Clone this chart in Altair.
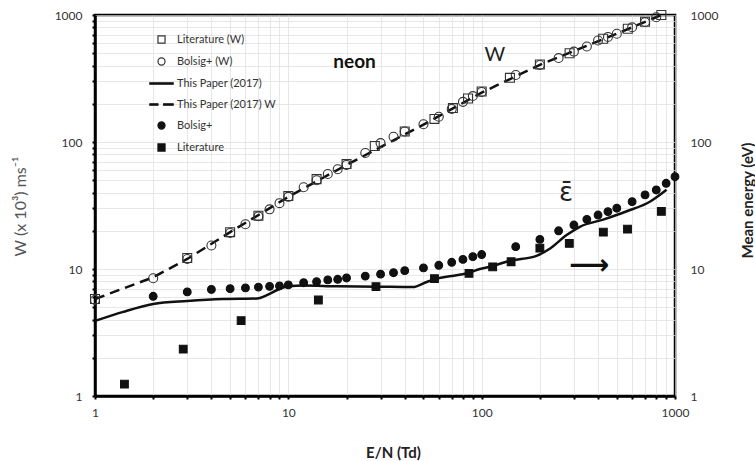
import altair as alt
import pandas as pd

# ---------------- W (drift velocity, left axis) ----------------
w_bolsig_x = [1, 2, 3, 4, 5, 6, 7, 8, 9, 10, 12, 14, 16, 18, 20, 25, 30, 35, 40, 50, 60, 70, 80,
              90, 100, 150, 200, 250, 300, 350, 400, 450, 500, 600, 700, 800]
w_bolsig_y = [5.7, 8.45, 12.0, 15.3, 19.2, 22.5, 26, 29.5, 33, 37, 44, 50, 56, 61, 66, 82, 98, 110,
              121, 138, 158, 182, 207, 230, 248, 337, 404, 458, 515, 565, 630, 672, 712, 800, 880, 960]

w_lit_x = [1, 3, 5, 7, 10, 14, 20, 28, 40, 57, 71, 85, 100, 140, 200, 285, 425, 570, 700, 850]
w_lit_y = [5.8, 12.2, 19.5, 26.3, 37.5, 51, 67, 93, 121, 152, 185, 220, 250, 320, 408, 500, 650,
           780, 885, 1000]

w_paper_x = [1, 2, 3, 5, 10, 20, 50, 100, 200, 500, 850]
w_paper_y = [5.8, 8.6, 12.0, 19.5, 37, 66, 137, 245, 405, 712, 1000]

# ---------------- Mean energy (right axis) ----------------
e_bolsig_x = [2, 3, 4, 5, 6, 7, 8, 9, 10, 12, 14, 16, 18, 20, 25, 30, 35, 40, 50, 60, 70, 80, 90,
              100, 150, 200, 250, 300, 350, 400, 450, 500, 600, 700, 800, 900, 1000]
e_bolsig_y = [6.1, 6.6, 6.9, 7.0, 7.1, 7.2, 7.3, 7.35, 7.5, 7.8, 7.95, 8.2, 8.3, 8.5, 8.8, 9.1, 9.35,
              9.7, 10.2, 10.7, 11.3, 11.9, 12.5, 13.0, 15.0, 17.1, 20.0, 22.2, 24.6, 26.6, 28.3,
              30.1, 33.9, 38.3, 41.9, 47.3, 53.3]

e_lit_x = [1.42, 2.86, 5.7, 14.3, 28.4, 57, 86, 114, 142, 200, 284, 426, 568, 850]
e_lit_y = [1.24, 2.34, 3.92, 5.7, 7.26, 8.39, 9.25, 10.4, 11.4, 14.6, 15.9, 19.5, 20.6, 28.4]

e_paper_x = [1, 1.4, 2, 3, 4.6, 6.9, 7.7, 8.7, 10, 12, 17.8, 28.7, 44, 52, 58.5, 70, 84, 98, 110,
             140, 192, 226, 275, 322, 425, 563, 745, 904]
e_paper_y = [3.9, 4.6, 5.3, 5.6, 5.8, 5.85, 6.2, 6.8, 7.3, 7.4, 7.3, 7.26, 7.2, 7.9, 8.4, 8.8, 9.25,
             10.0, 10.4, 11.6, 12.7, 14.5, 18.5, 21.5, 24.5, 28.5, 34, 42]

# ---------------- legend ----------------
series_names = ["Literature (W)", "Bolsig+ (W)", "This Paper (2017)", "This Paper (2017) W",
                "Bolsig+", "Literature"]
shape_range = ["square", "circle",
               "M-3.3,-0.2H3.3V0.2H-3.3Z",
               "M-3.3,-0.2H-1V0.2H-3.3ZM0.6,-0.2H3.3V0.2H0.6Z",
               "circle", "square"]
fill_range = ["transparent", "transparent", "#111", "#111", "#111", "#111"]
stroke_range = ["#333", "#333", "#111", "#111", "#111", "#111"]

# ---------------- annotations ----------------
ann_text = ["neon", "W", "ε̄", "⟶"]
ann_x = [22, 117, 273, 359]
ann_y = [427, 484, 39.5, 10.5]

tick_vals = [1, 2, 3, 4, 5, 6, 7, 8, 9, 10, 20, 30, 40, 50, 60, 70, 80, 90,
             100, 200, 300, 400, 500, 600, 700, 800, 900, 1000]
major_expr = ("(datum.value==1||datum.value==10||datum.value==100||datum.value==1000)"
              " ? format(datum.value,'d') : ''")


def mk(xs, ys, name):
    return pd.DataFrame({"x": xs, "y": ys, "series": name})


w_open = pd.concat([mk(w_lit_x, w_lit_y, "Literature (W)"),
                    mk(w_bolsig_x, w_bolsig_y, "Bolsig+ (W)")])
w_line = mk(w_paper_x, w_paper_y, "This Paper (2017) W")
e_filled = pd.concat([mk(e_bolsig_x, e_bolsig_y, "Bolsig+"),
                      mk(e_lit_x, e_lit_y, "Literature")])
e_line = mk(e_paper_x, e_paper_y, "This Paper (2017)")
ann = pd.DataFrame({"x": ann_x, "y": ann_y, "t": ann_text})

FONT = "Lato"
xscale = alt.Scale(type="log", domain=[1, 1000], nice=False)
yscale = alt.Scale(type="log", domain=[1, 1000], nice=False)

x_enc = alt.X("x:Q", scale=xscale, axis=alt.Axis(
    values=tick_vals, labelExpr=major_expr, title="E/N (Td)", grid=True,
    gridColor="#dcdcdc", gridWidth=0.7, domainColor="black", domainWidth=2.5,
    tickColor="black", tickWidth=2, tickSize=3, labelPadding=8, labelFont=FONT,
    labelFontSize=12, labelColor="#333", labelFlush=False,
    titleFont=FONT, titleFontSize=15, titleFontWeight="bold", titleColor="#222",
    titleX=298, titleY=49, titleAnchor=None))

y_left = alt.Y("y:Q", scale=yscale, axis=alt.Axis(
    orient="left", values=tick_vals, labelExpr=major_expr, title="W (x 10³) ms⁻¹",
    grid=True, gridColor="#dcdcdc", gridWidth=0.7, domainColor="black", domainWidth=2.5,
    tickColor="black", tickWidth=2, tickSize=3, labelPadding=10, labelFont=FONT,
    labelFontSize=12, labelColor="#333", labelFlush=False,
    titleFont=FONT, titleFontSize=16, titleFontWeight="normal", titleColor="#555",
    titleX=-75, titleY=191, titleAngle=-90, titleAlign="center", titleBaseline="middle"))

y_right = alt.Y("y:Q", scale=yscale, axis=alt.Axis(
    orient="right", values=[1, 10, 100, 1000], format="d", title="Mean energy (eV)",
    grid=False, domain=False, ticks=False, labelPadding=15, labelFont=FONT,
    labelFontSize=12, labelColor="#333", labelFlush=False,
    titleFont=FONT, titleFontSize=15, titleFontWeight="bold", titleColor="#222",
    titleX=72, titleY=185, titleAngle=-90, titleAlign="center", titleBaseline="middle"))

leg = alt.Legend(title=None, symbolStrokeColor="#111", symbolStrokeWidth=1.2)
shape_enc = alt.Shape("series:N", scale=alt.Scale(domain=series_names, range=shape_range),
                      legend=leg)
fill_enc = alt.Fill("series:N", scale=alt.Scale(domain=series_names, range=fill_range),
                    legend=leg)
stroke_enc = alt.Stroke("series:N", scale=alt.Scale(domain=series_names, range=stroke_range),
                        legend=leg)

w_line_layer = alt.Chart(w_line).mark_line(
    color="#111", strokeWidth=2.5, strokeDash=[10, 6]).encode(x=x_enc, y=y_left)
w_pts_layer = alt.Chart(w_open).mark_point(
    size=80, opacity=1, filled=False, strokeWidth=1.1).encode(
    x=x_enc, y=y_left, shape=shape_enc, fill=fill_enc, stroke=stroke_enc)

e_line_layer = alt.Chart(e_line).mark_line(
    color="#111", strokeWidth=2.5, interpolate="monotone").encode(x=x_enc, y=y_right)
e_pts_layer = alt.Chart(e_filled).mark_point(
    size=60, opacity=1, filled=False, strokeWidth=1.1).encode(
    x=x_enc, y=y_right, shape=shape_enc, fill=fill_enc, stroke=stroke_enc)

t_neon = alt.Chart(ann).transform_filter(alt.datum.t == "neon").mark_text(
    font=FONT, fontSize=19, fontWeight="bold", color="#111").encode(x=x_enc, y=y_right, text="t:N")
t_w = alt.Chart(ann).transform_filter(alt.datum.t == "W").mark_text(
    font=FONT, fontSize=20, color="#222").encode(x=x_enc, y=y_right, text="t:N")
t_eps = alt.Chart(ann).transform_filter(alt.datum.t == "ε̄").mark_text(
    font="DejaVu Sans", fontSize=26, color="#222").encode(x=x_enc, y=y_right, text="t:N")
t_arrow = alt.Chart(ann).transform_filter(alt.datum.t == "⟶").mark_text(
    font="DejaVu Sans", fontSize=28, fontWeight="bold", color="#111").encode(
    x=x_enc, y=y_right, text="t:N")

left = alt.layer(w_line_layer, w_pts_layer)
right = alt.layer(e_line_layer, e_pts_layer, t_neon, t_w, t_eps, t_arrow)

chart = alt.layer(left, right).resolve_scale(y="independent").properties(
    width=580, height=381,
    padding={"left": 95, "top": 15, "right": 80, "bottom": 65},
    autosize=alt.AutoSizeParams(type="none"),
    background="white",
).configure_view(
    stroke="black", strokeWidth=2.5
).configure_legend(
    orient="none", legendX=61, legendY=19, symbolSize=50, symbolStrokeColor="#111",
    labelFont=FONT, labelFontSize=11, labelColor="#333", labelOffset=10, rowPadding=9,
    padding=0, symbolOpacity=1
)

chart.save("out.html", embed_options={"renderer": "svg", "actions": False})
